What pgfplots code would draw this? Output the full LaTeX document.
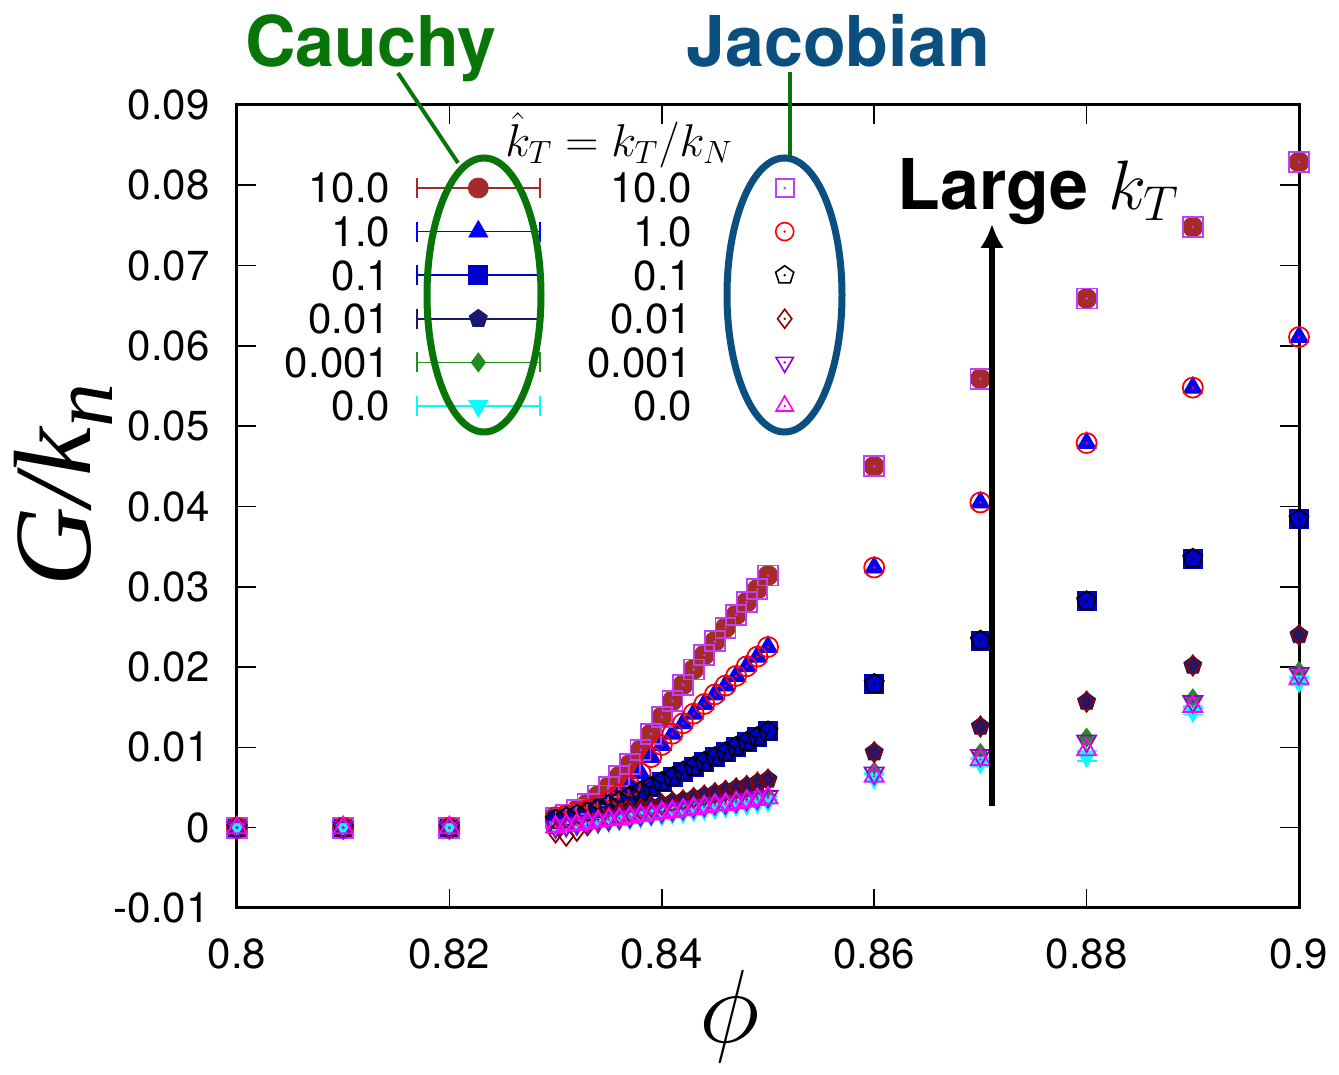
\RequirePackage{fix-cm}
\documentclass[border=0pt]{standalone}
\usepackage{fontspec}
\setmainfont{TeX Gyre Heros}
\newfontfamily\tms{Liberation Serif}
\usepackage{pgfplots}
\usepackage{pgfplotstable}
\pgfplotsset{compat=1.18}
\usetikzlibrary{arrows.meta}

% Cauchy stress series (filled marks)
\definecolor{cBrown}{HTML}{A52A2A}
\definecolor{cBlue}{HTML}{0000FF}
\definecolor{cMedBlue}{HTML}{0000CD}
\definecolor{cNavy}{HTML}{191970}
\definecolor{cForest}{HTML}{228B22}
\definecolor{cCyan}{HTML}{00FFFF}
% Jacobian series (open marks)
\definecolor{jViolet}{HTML}{BF3FFF}
\definecolor{jRed}{HTML}{FF0000}
\definecolor{jDarkRed}{HTML}{8B0000}
\definecolor{jPurple}{HTML}{9400D3}
\definecolor{jMagenta}{HTML}{FF00FF}
% annotation colours
\definecolor{cauchyGreen}{HTML}{077507}
\definecolor{jacBlue}{HTML}{0B4F80}

% open marks with a small centre dot
\pgfdeclareplotmark{dsquare}{\pgfuseplotmark{square}\pgfpathcircle{\pgfpointorigin}{0.1pt}\pgfusepathqstroke}
\pgfdeclareplotmark{dcircle}{\pgfuseplotmark{o}\pgfpathcircle{\pgfpointorigin}{0.1pt}\pgfusepathqstroke}
\pgfdeclareplotmark{dpentagon}{\pgfuseplotmark{pentagon}\pgfpathcircle{\pgfpointorigin}{0.1pt}\pgfusepathqstroke}
\pgfdeclareplotmark{ddiamond}{\pgfuseplotmark{diamond}\pgfpathcircle{\pgfpointorigin}{0.1pt}\pgfusepathqstroke}
\pgfdeclareplotmark{dtriangle}{\pgfuseplotmark{triangle}\pgfpathcircle{\pgfpointorigin}{0.1pt}\pgfusepathqstroke}

\pgfplotsset{
  cauchy legend/.style={legend image code/.code={
      \draw[line width=0.75pt,solid] (0pt,0pt) -- (61.5pt,0pt);
      \draw[line width=0.75pt,solid] (0pt,-5pt) -- (0pt,5pt) (61.5pt,-5pt) -- (61.5pt,5pt);
      \draw plot coordinates {(30.75pt,0pt)};
      \path (0pt,0pt) (72pt,0pt);}},
  jacobi legend/.style={legend image code/.code={
      \draw plot coordinates {(33pt,0pt)};
      \path (0pt,0pt) (72pt,0pt);}},
}

% columns: phi, Cauchy G/k_n, Jacobian G/k_n
\pgfplotstableread{
phi C J
0.80 0 0
0.81 0 0
0.82 0 0
0.830 0.0012 0.0012
0.831 0.0016 0.0016
0.832 0.0022 0.0022
0.833 0.0030 0.0030
0.834 0.0040 0.0040
0.835 0.0051 0.0051
0.836 0.0064 0.0064
0.837 0.0079 0.0079
0.838 0.0097 0.0097
0.839 0.0117 0.0117
0.840 0.0138 0.0138
0.841 0.0158 0.0158
0.842 0.0178 0.0178
0.843 0.0197 0.0197
0.844 0.0215 0.0215
0.845 0.0232 0.0232
0.846 0.0249 0.0249
0.847 0.0265 0.0265
0.848 0.0281 0.0281
0.849 0.0297 0.0297
0.850 0.0314 0.0314
0.86 0.0450 0.0450
0.87 0.0559 0.0559
0.88 0.0659 0.0659
0.89 0.0748 0.0748
0.90 0.0829 0.0829
}\kten

\pgfplotstableread{
phi C J
0.80 0 0
0.81 0 0
0.82 0 0
0.830 0.0012 0.0013
0.831 0.0015 0.0015
0.832 0.0018 0.0018
0.833 0.0022 0.0022
0.834 0.0027 0.0027
0.835 0.0033 0.0033
0.836 0.0041 0.0041
0.837 0.0052 0.0052
0.838 0.0068 0.0068
0.839 0.0088 0.0088
0.840 0.0103 0.0103
0.841 0.0117 0.0117
0.842 0.0130 0.0130
0.843 0.0142 0.0142
0.844 0.0154 0.0154
0.845 0.0166 0.0166
0.846 0.0177 0.0177
0.847 0.0189 0.0189
0.848 0.0201 0.0201
0.849 0.0213 0.0213
0.850 0.0225 0.0225
0.86 0.0324 0.0324
0.87 0.0405 0.0405
0.88 0.0479 0.0479
0.89 0.0548 0.0548
0.90 0.0611 0.0611
}\kone

\pgfplotstableread{
phi C J
0.80 0 0
0.81 0 0
0.82 0 0
0.830 0.0010 0.0010
0.831 0.0013 0.0013
0.832 0.0016 0.0016
0.833 0.0019 0.0019
0.834 0.0023 0.0023
0.835 0.0028 0.0028
0.836 0.0033 0.0033
0.837 0.0039 0.0039
0.838 0.0045 0.0045
0.839 0.0051 0.0051
0.840 0.0057 0.0057
0.841 0.0063 0.0063
0.842 0.0070 0.0070
0.843 0.0076 0.0076
0.844 0.0082 0.0082
0.845 0.0088 0.0088
0.846 0.0094 0.0094
0.847 0.0101 0.0101
0.848 0.0107 0.0107
0.849 0.0113 0.0113
0.850 0.0120 0.0120
0.86 0.0179 0.0179
0.87 0.0233 0.0233
0.88 0.0282 0.0282
0.89 0.0335 0.0335
0.90 0.0384 0.0384
}\kpone

\pgfplotstableread{
phi C J
0.80 0 0
0.81 0 0
0.82 0 0
0.830 0.0002 -0.0006
0.831 0.0004 -0.0010
0.832 0.0006 -0.0004
0.833 0.0008 0.0003
0.834 0.0011 0.0010
0.835 0.0014 0.0014
0.836 0.0017 0.0017
0.837 0.0020 0.0020
0.838 0.0023 0.0023
0.839 0.0026 0.0026
0.840 0.0029 0.0029
0.841 0.0032 0.0032
0.842 0.0034 0.0034
0.843 0.0037 0.0037
0.844 0.0040 0.0040
0.845 0.0043 0.0043
0.846 0.0046 0.0046
0.847 0.0049 0.0049
0.848 0.0052 0.0052
0.849 0.0056 0.0056
0.850 0.0060 0.0060
0.86 0.0094 0.0094
0.87 0.0126 0.0126
0.88 0.0157 0.0157
0.89 0.0202 0.0202
0.90 0.0240 0.0240
}\kpzone

\pgfplotstableread{
phi C J
0.80 0 0
0.81 0 0
0.82 0 0
0.830 0.0002 0.0001
0.831 0.0004 0.0003
0.832 0.0006 0.0005
0.833 0.0008 0.0007
0.834 0.0009 0.0008
0.835 0.0011 0.0010
0.836 0.0013 0.0012
0.837 0.0015 0.0014
0.838 0.0017 0.0016
0.839 0.0019 0.0018
0.840 0.0021 0.0020
0.841 0.0023 0.0022
0.842 0.0025 0.0024
0.843 0.0027 0.0026
0.844 0.0029 0.0028
0.845 0.0031 0.0030
0.846 0.0032 0.0031
0.847 0.0034 0.0033
0.848 0.0036 0.0035
0.849 0.0038 0.0037
0.850 0.0040 0.0039
0.86 0.0070 0.0068
0.87 0.0093 0.0090
0.88 0.0112 0.0108
0.89 0.0161 0.0157
0.90 0.0195 0.0192
}\kpzzone

% columns: phi, Cauchy, Cauchy error, Jacobian
\pgfplotstableread{
phi C E J
0.80 0 0.0002 0
0.81 0 0.0002 0
0.82 0 0.0002 0
0.830 0.0000 0.0002 0.0001
0.831 0.0002 0.0002 0.0003
0.832 0.0003 0.0002 0.0004
0.833 0.0005 0.0002 0.0006
0.834 0.0006 0.0002 0.0008
0.835 0.0008 0.0002 0.0010
0.836 0.0010 0.0002 0.0011
0.837 0.0011 0.0002 0.0013
0.838 0.0013 0.0002 0.0015
0.839 0.0015 0.0002 0.0017
0.840 0.0016 0.0002 0.0019
0.841 0.0018 0.0002 0.0020
0.842 0.0019 0.0002 0.0022
0.843 0.0021 0.0002 0.0024
0.844 0.0023 0.0002 0.0026
0.845 0.0024 0.0002 0.0028
0.846 0.0026 0.0002 0.0029
0.847 0.0028 0.0002 0.0031
0.848 0.0029 0.0002 0.0033
0.849 0.0031 0.0002 0.0035
0.850 0.0033 0.0002 0.0037
0.86 0.0062 0.0004 0.0064
0.87 0.0081 0.0004 0.0085
0.88 0.0089 0.0006 0.0097
0.89 0.0145 0.0004 0.0151
0.90 0.0182 0.0004 0.0186
}\kzero

\begin{document}
\begin{tikzpicture}
\useasboundingbox (-118.5pt,-83.5pt) rectangle (551pt,454pt);
\begin{axis}[
  at={(0pt,0pt)}, anchor=south west,
  scale only axis, width=531pt, height=401.5pt,
  xmin=0.8, xmax=0.9, ymin=-0.01, ymax=0.09,
  clip=false,
  scaled x ticks=false, scaled y ticks=false,
  axis line style={line width=1.5pt},
  tick align=inside, major tick length=9.5pt,
  tick style={black, line width=0.8pt},
  xtick={0.8,0.82,0.84,0.86,0.88,0.9},
  xticklabels={0.8,0.82,0.84,0.86,0.88,0.9},
  ytick={-0.01,0,0.01,0.02,0.03,0.04,0.05,0.06,0.07,0.08,0.09},
  yticklabels={-0.01,0,0.01,0.02,0.03,0.04,0.05,0.06,0.07,0.08,0.09},
  ticklabel style={font=\fontsize{21}{21}\selectfont, inner sep=0pt},
  xticklabel style={yshift=-15pt},
  yticklabel style={xshift=-13.5pt},
  xlabel={$\phi$},
  ylabel={\tms\itshape G/k\raisebox{-0.2em}{\fontsize{44}{44}\selectfont n}},
  xlabel style={font=\fontsize{52}{52}\selectfont, at={(axis description cs:0.464,-0.1357)}, anchor=center},
  ylabel style={font=\fontsize{55}{55}\selectfont, at={(axis description cs:-0.1638,0.5268)}, anchor=center},
  legend columns=2, legend plot pos=right, legend cell align=right,
  legend style={at={(axis description cs:0.0452,0.9153)}, anchor=north west,
    draw=none, fill=none, inner sep=0pt, outer sep=0pt,
    column sep=13pt, row sep=6.8pt,
    font=\fontsize{21}{21}\selectfont,
    nodes={inner sep=0pt, text height=15pt, text depth=0pt}},
]
% legend: Cauchy and Jacobian side by side for each k_T
\addlegendimage{cauchy legend, only marks, color=cBrown, mark=*, mark size=5pt}
\addlegendentry{10.0}
\addlegendimage{jacobi legend, only marks, color=jViolet, mark=dsquare, mark size=4.5pt, mark options={line width=0.8pt}}
\addlegendentry{10.0}
\addlegendimage{cauchy legend, only marks, color=cBlue, mark=triangle*, mark size=5.5pt}
\addlegendentry{1.0}
\addlegendimage{jacobi legend, only marks, color=jRed, mark=dcircle, mark size=4.5pt, mark options={line width=0.8pt}}
\addlegendentry{1.0}
\addlegendimage{cauchy legend, only marks, color=cMedBlue, mark=square*, mark size=4.75pt}
\addlegendentry{0.1}
\addlegendimage{jacobi legend, only marks, color=black, mark=dpentagon, mark size=4.75pt, mark options={line width=0.8pt}}
\addlegendentry{0.1}
\addlegendimage{cauchy legend, only marks, color=cNavy, mark=pentagon*, mark size=4.75pt}
\addlegendentry{0.01}
\addlegendimage{jacobi legend, only marks, color=jDarkRed, mark=ddiamond, mark size=4.75pt, mark options={line width=0.8pt}}
\addlegendentry{0.01}
\addlegendimage{cauchy legend, only marks, color=cForest, mark=diamond*, mark size=4.75pt}
\addlegendentry{0.001}
\addlegendimage{jacobi legend, only marks, color=jPurple, mark=dtriangle, mark size=5pt, mark options={line width=0.8pt, rotate=180}}
\addlegendentry{0.001}
\addlegendimage{cauchy legend, only marks, color=cCyan, mark=triangle*, mark size=5.5pt, mark options={rotate=180}}
\addlegendentry{0.0}
\addlegendimage{jacobi legend, only marks, color=jMagenta, mark=dtriangle, mark size=5pt, mark options={line width=0.8pt}}
\addlegendentry{0.0}

% Cauchy stress
\addplot[forget plot, only marks, color=cBrown, mark=*, mark size=5pt] table[x=phi,y=C]{\kten};
\addplot[forget plot, only marks, color=cBlue, mark=triangle*, mark size=5.5pt] table[x=phi,y=C]{\kone};
\addplot[forget plot, only marks, color=cMedBlue, mark=square*, mark size=4.75pt] table[x=phi,y=C]{\kpone};
\addplot[forget plot, only marks, color=cNavy, mark=pentagon*, mark size=4.75pt] table[x=phi,y=C]{\kpzone};
\addplot[forget plot, only marks, color=cForest, mark=diamond*, mark size=4.75pt] table[x=phi,y=C]{\kpzzone};
\addplot[forget plot, only marks, color=cCyan, mark=triangle*, mark size=5.5pt, mark options={rotate=180},
  error bars/.cd, y dir=both, y explicit,
  error bar style={line width=0.75pt, cCyan},
  error mark options={rotate=90, mark size=5pt, line width=0.75pt, cCyan}]
  table[x=phi,y=C,y error=E]{\kzero};

% Jacobian
\addplot[forget plot, only marks, color=jViolet, mark=dsquare, mark size=5pt, mark options={line width=0.9pt}] table[x=phi,y=J]{\kten};
\addplot[forget plot, only marks, color=jRed, mark=dcircle, mark size=5pt, mark options={line width=0.9pt}] table[x=phi,y=J]{\kone};
\addplot[forget plot, only marks, color=black, mark=dpentagon, mark size=5pt, mark options={line width=0.9pt}] table[x=phi,y=J]{\kpone};
\addplot[forget plot, only marks, color=jDarkRed, mark=ddiamond, mark size=5pt, mark options={line width=0.9pt}] table[x=phi,y=J]{\kpzone};
\addplot[forget plot, only marks, color=jPurple, mark=dtriangle, mark size=5.5pt, mark options={line width=0.9pt, rotate=180}] table[x=phi,y=J]{\kpzzone};
\addplot[forget plot, only marks, color=jMagenta, mark=dtriangle, mark size=5.5pt, mark options={line width=0.9pt}] table[x=phi,y=J]{\kzero};
\end{axis}

% annotations, in a pixel-like frame (origin top left, 0.5pt per unit)
\begin{scope}[x=0.5pt, y=-0.5pt, shift={(-118.5pt,454pt)}]
  \node[font=\fontsize{23}{23}\selectfont, anchor=base] at (619,157) {$\hat{k}_T = k_T/k_N$};
  \node[font=\fontsize{35}{40}\selectfont\bfseries, text=cauchyGreen, anchor=base west, inner sep=0pt] at (245,67) {Cauchy};
  \node[font=\fontsize{35}{40}\selectfont\bfseries, text=jacBlue, anchor=base west, inner sep=0pt] at (686,67) {Jacobian};
  \draw[cauchyGreen, line width=2pt] (398,73) -- (458,163);
  \draw[cauchyGreen, line width=1.6pt] (790,72) -- (790,160);
  \draw[cauchyGreen, line width=3.5pt] (484,295) ellipse [x radius=28.5pt, y radius=68.5pt];
  \draw[jacBlue, line width=3.5pt] (784.5,295) ellipse [x radius=28.75pt, y radius=68.5pt];
  \node[font=\fontsize{35}{40}\selectfont, anchor=base west, inner sep=0pt] at (897,210) {\textbf{Large} $k_T$};
  \draw[line width=3pt, -{Latex[length=12pt, width=12pt]}] (992,806) -- (992,224);
\end{scope}
\end{tikzpicture}
\end{document}
